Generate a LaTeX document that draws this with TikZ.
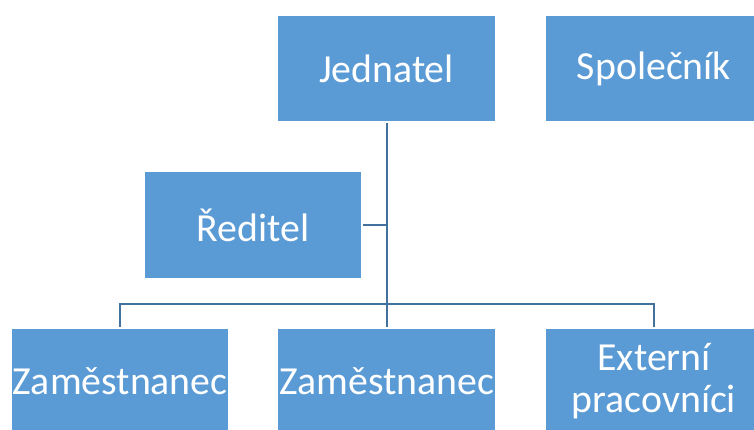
\documentclass[tikz,border=0pt]{standalone}
\usepackage{fontspec}
\setmainfont{Carlito}
\usepackage{tikz}
\definecolor{boxblue}{HTML}{5B9BD5}
\definecolor{linkblue}{HTML}{41719C}
\tikzset{>=latex,
  box/.style={fill=boxblue,draw=white,line width=0.04cm,minimum width=5.45cm,
    minimum height=2.675cm,inner sep=0pt,text=white,align=center,
    font=\fontsize{28.3pt}{30pt}\selectfont},
  link/.style={draw=linkblue,line width=0.05cm}}

\begin{document}
\begin{tikzpicture}
            \useasboundingbox (0,0) rectangle (18.85,10.725);
            \clip (0,0) rectangle (18.85,10.725);
            \node[box] (jed) at (9.6625,9.0125){Jednatel};
            \node[box] (spol) at (16.35,9.0125){Společník};
            \node[box] (red) at (6.325,5.1){Ředitel};
            \node[box] (zam1) at (3.0,1.1875){Zaměstnanec};
            \node[box] (zam2) at (9.6625,1.1875){Zaměstnanec};
            \node[box] (ext) at (16.35,1.1875){Externí\\pracovníci};
            \coordinate (bus) at (9.6625,3.125);
            \draw[link] (jed.south) -- (zam2.north);
            \draw[link] (red.east) -- (red.east -| jed.south);
            \draw[link] (zam1.north) -- (zam1.north |- bus) -- (ext.north |- bus) -- (ext.north);
        \end{tikzpicture}
\end{document}
